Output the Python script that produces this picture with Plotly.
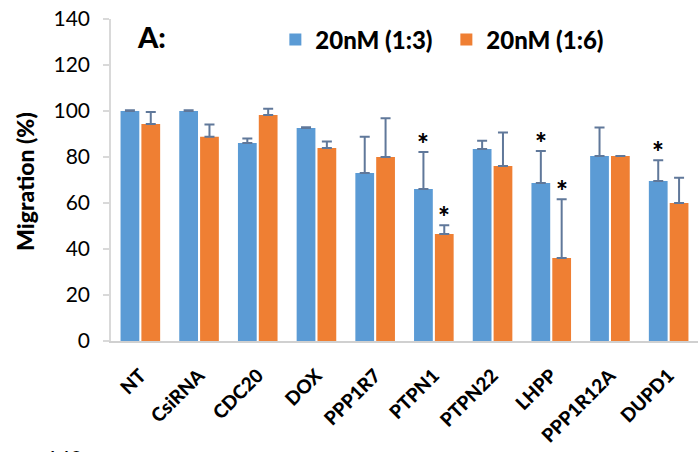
import plotly.graph_objects as go

categories = ["NT", "CsiRNA", "CDC20", "DOX", "PPP1R7", "PTPN1", "PTPN22", "LHPP", "PPP1R12A", "DUPD1"]
series_names = ["20nM (1:3)", "20nM (1:6)"]
values_13 = [100, 100, 86.1, 92.6, 73.0, 66.1, 83.5, 68.7, 80.4, 69.6]
err_13 = [0.3, 0.3, 1.9, 0.3, 15.8, 16.1, 3.6, 13.9, 12.4, 9.0]
values_16 = [94.3, 88.8, 98.3, 83.9, 80.0, 46.5, 76.1, 36.1, 80.4, 60.0]
err_16 = [5.3, 5.3, 2.7, 2.8, 16.8, 3.8, 14.5, 25.5, 0, 11.0]
sig_13 = [False, False, False, False, False, True, False, True, False, True]
sig_16 = [False, False, False, False, False, True, False, True, False, False]
y_ticks = [0, 20, 40, 60, 80, 100, 120, 140]

FONT = "Lato"
BLUE = "#5b9bd5"
ORANGE = "#ef7f33"
ERR = "#60789a"

fig = go.Figure()
fig.add_trace(go.Bar(
    x=categories, y=values_13, name=series_names[0],
    marker=dict(color=BLUE, line=dict(width=0)),
    error_y=dict(type="data", array=err_13, symmetric=False, arrayminus=[0]*len(err_13),
                 color=ERR, thickness=2, width=5),
))
fig.add_trace(go.Bar(
    x=categories, y=values_16, name=series_names[1],
    marker=dict(color=ORANGE, line=dict(width=0)),
    error_y=dict(type="data", array=err_16, symmetric=False, arrayminus=[0]*len(err_16),
                 color=ERR, thickness=2, width=5),
))

annotations = []
for i, c in enumerate(categories):
    if sig_13[i]:
        annotations.append(dict(x=c, y=values_13[i] + err_13[i], xref="x", yref="y",
                                text="*", showarrow=False, xshift=-10.4, yshift=-10,
                                yanchor="bottom", font=dict(family=FONT, size=28, color="black", weight=900)))
    if sig_16[i]:
        annotations.append(dict(x=c, y=values_16[i] + err_16[i], xref="x", yref="y",
                                text="*", showarrow=False, xshift=10.4, yshift=-10,
                                yanchor="bottom", font=dict(family=FONT, size=28, color="black", weight=900)))

annotations.append(dict(x=0.041, y=0.947, xref="paper", yref="paper", text="A:",
                        showarrow=False, xanchor="left", yanchor="middle",
                        font=dict(family=FONT, size=29, color="black", weight=900)))
annotations.append(dict(x=-0.1465, y=0.494, xref="paper", yref="paper", text="Migration (%)",
                        showarrow=False, xanchor="center", yanchor="middle", textangle=-90,
                        font=dict(family=FONT, size=23, color="black", weight=900)))
annotations.append(dict(x=-0.045, y=-0.318, xref="paper", yref="paper", text="140",
                        showarrow=False, xanchor="right", yanchor="top",
                        font=dict(family=FONT, size=21, color="black")))

fig.update_layout(
    width=698, height=452,
    margin=dict(l=111, r=0, t=19, b=111),
    paper_bgcolor="white", plot_bgcolor="white",
    barmode="group", bargap=0.29, bargroupgap=0.1,
    font=dict(family=FONT, color="black"),
    showlegend=True,
    legend=dict(orientation="h", x=0.28, y=0.935, xanchor="left", yanchor="middle",
                font=dict(family=FONT, size=24, color="black", weight=900),
                itemwidth=30, entrywidth=126, bgcolor="rgba(0,0,0,0)"),
    annotations=annotations,
)
fig.update_xaxes(
    showline=True, linecolor="#d0d0d0", linewidth=2, ticks="",
    tickangle=-45, tickfont=dict(family=FONT, size=19, color="black", weight=900),
    ticklabelstandoff=14,
    showgrid=False, range=[-0.5, 9.5],
)
fig.update_yaxes(
    range=[0, 140], tickvals=y_ticks, showline=True, linecolor="#d9d9d9", linewidth=1.5,
    ticks="outside", ticklen=6, tickcolor="#d9d9d9", tickwidth=1.5,
    ticklabelstandoff=9,
    tickfont=dict(family=FONT, size=21, color="black"), showgrid=False, zeroline=False,
)

fig.write_html("out.html", config={"displayModeBar": False},
               post_script="document.body.style.margin='0';document.body.style.padding='0';")
